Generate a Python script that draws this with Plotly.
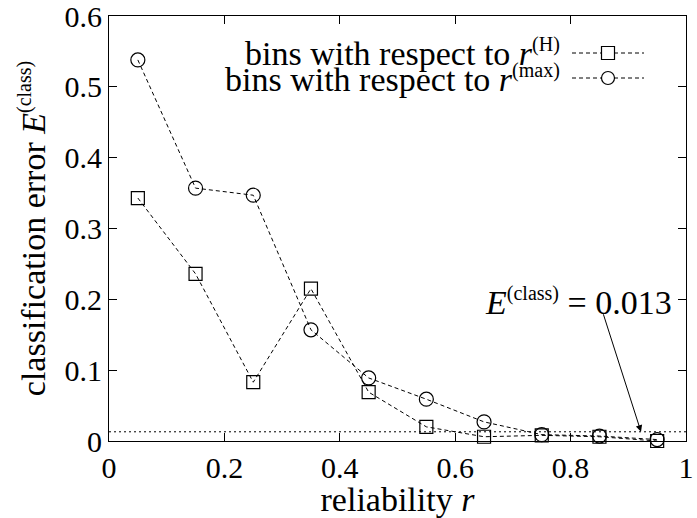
import plotly.graph_objects as go

# ---- data ----
reliability = [0.05, 0.15, 0.25, 0.35, 0.45, 0.55, 0.65, 0.75, 0.85, 0.95]
err_H = [0.343, 0.236, 0.083, 0.215, 0.069, 0.020, 0.006, 0.008, 0.006, 0.000]
err_max = [0.538, 0.357, 0.347, 0.157, 0.089, 0.059, 0.027, 0.009, 0.007, 0.002]
overall_error = 0.013
x_ticks = [0, 0.2, 0.4, 0.6, 0.8, 1]
x_tick_labels = ["0", "0.2", "0.4", "0.6", "0.8", "1"]
y_ticks = [0, 0.1, 0.2, 0.3, 0.4, 0.5, 0.6]
y_tick_labels = ["0", "0.1", "0.2", "0.3", "0.4", "0.5", "0.6"]

FONT = "Liberation Serif"
FS = 30
TFS = 34


def ser(t):
    return "<span style='font-family:Liberation Serif'>%s</span>" % t


def it(t):
    return "<i><span style='font-family:Liberation Serif'>%s</span></i>" % t


def sup(t):
    return "<sup><span style='font-size:20px;font-family:Liberation Serif'>%s</span></sup>" % t


series_names = [ser("bins with respect to ") + it("r") + sup("(H)"),
                ser("bins with respect to ") + it("r") + sup("(max)")]

W, H = 697, 518
L, R, T, B = 109, 11, 16, 77
pw, ph = W - L - R, H - T - B


def px2paper_x(px):
    return (px - L) / pw


def px2paper_y(py):
    return (H - B - py) / ph


fig = go.Figure()

line_style = dict(color="black", width=1, dash="4px,3px")

fig.add_trace(go.Scatter(
    x=reliability, y=err_H, mode="lines+markers", name="H",
    line=line_style,
    marker=dict(symbol="square-open", size=13, color="black", line=dict(width=1.2, color="black")),
    showlegend=False, cliponaxis=False))
fig.add_trace(go.Scatter(
    x=reliability, y=err_max, mode="lines+markers", name="max",
    line=line_style,
    marker=dict(symbol="circle-open", size=14, color="black", line=dict(width=1.2, color="black")),
    showlegend=False, cliponaxis=False))

# dotted reference line
fig.add_trace(go.Scatter(
    x=[0, 1], y=[overall_error, overall_error], mode="lines",
    line=dict(color="black", width=1, dash="2px,3px"),
    showlegend=False, hoverinfo="skip"))

shapes = []
annotations = []

# manual legend (text left of sample)
rows = [53, 78]
symbols = ["rect", "circle"]
for name, py, sym in zip(series_names, rows, symbols):
    yp = px2paper_y(py)
    annotations.append(dict(
        x=px2paper_x(562), y=yp, xref="paper", yref="paper",
        text=name, showarrow=False, xanchor="right", yanchor="middle",
        font=dict(family=FONT, size=TFS, color="black")))
    shapes.append(dict(type="line", xref="paper", yref="paper",
                       x0=px2paper_x(572), x1=px2paper_x(644), y0=yp, y1=yp,
                       line=dict(color="black", width=1, dash="4px,3px")))
    shapes.append(dict(type=sym, xref="paper", yref="paper",
                       xsizemode="pixel", ysizemode="pixel",
                       xanchor=px2paper_x(608), yanchor=yp,
                       x0=-6.5, x1=6.5, y0=-6.5, y1=6.5,
                       fillcolor="white",
                       line=dict(color="black", width=1.2)))

# annotation text and arrow
annotations.append(dict(
    x=px2paper_x(578), y=px2paper_y(302), xref="paper", yref="paper",
    text=it("E") + sup("(class)") + ser(" = 0.013"), showarrow=False,
    xanchor="center", yanchor="middle",
    font=dict(family=FONT, size=TFS, color="black")))
annotations.append(dict(
    x=0.922, y=overall_error, xref="x", yref="y",
    ax=0.856, ay=0.181, axref="x", ayref="y",
    text="", showarrow=True, arrowhead=2, arrowsize=1.3, arrowwidth=1,
    arrowcolor="black", standoff=0, startstandoff=0))

fig.update_layout(
    width=W, height=H,
    margin=dict(l=L, r=R, t=T, b=B, pad=0, autoexpand=False),
    paper_bgcolor="white", plot_bgcolor="white",
    font=dict(family=FONT, size=FS, color="black"),
    shapes=shapes, annotations=annotations,
    showlegend=False,
)
fig.update_xaxes(
    range=[0, 1.0000001], tickvals=x_ticks, ticktext=x_tick_labels,
    ticks="inside", ticklen=8, tickwidth=1, tickcolor="black",
    showline=True, linecolor="black", linewidth=1, mirror="allticks",
    showgrid=False, zeroline=False, automargin=False,
    ticklabeloverflow="allow",
    tickfont=dict(family=FONT, size=FS, color="black"),
    title=dict(text=ser("reliability ") + it("r"),
               font=dict(family=FONT, size=TFS, color="black"), standoff=6),
)
fig.update_yaxes(
    range=[0, 0.6000001], tickvals=y_ticks, ticktext=y_tick_labels,
    ticks="inside", ticklen=8, tickwidth=1, tickcolor="black",
    showline=True, linecolor="black", linewidth=1, mirror="allticks",
    showgrid=False, zeroline=False, automargin=False,
    ticklabeloverflow="allow",
    tickfont=dict(family=FONT, size=FS, color="black"),
    title=dict(text=ser("classification error ") + it("E") + sup("(class)"),
               font=dict(family=FONT, size=TFS, color="black"), standoff=8),
)

fig.write_html("out.html", config={"displayModeBar": False},
               post_script="document.body.style.margin='0';document.body.style.overflow='hidden';")
